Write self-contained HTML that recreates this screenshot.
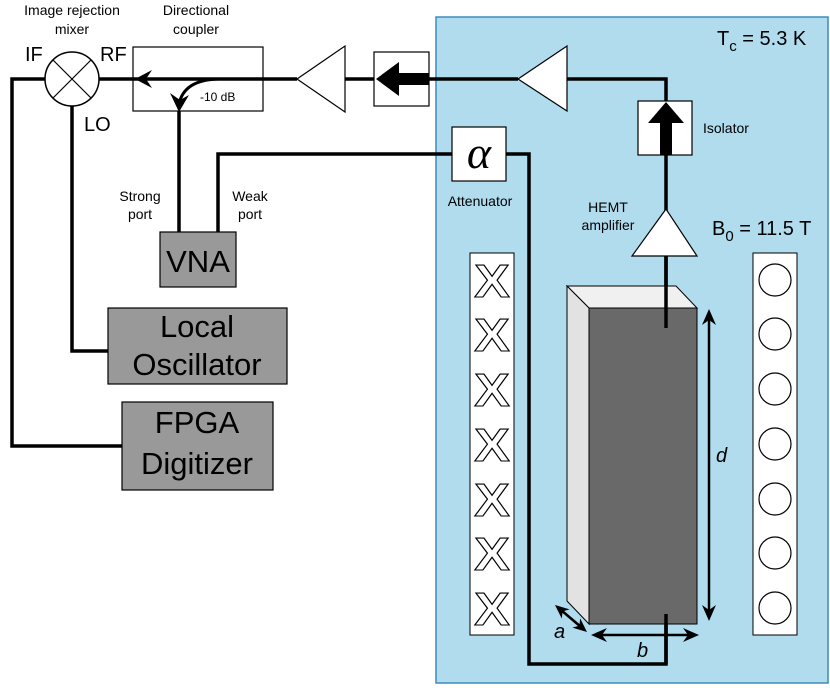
<!DOCTYPE html>
<html><head><meta charset="utf-8"><style>html,body{margin:0;padding:0;background:#fff}svg{display:block}</style></head>
<body>
<svg width="830" height="688" viewBox="0 0 830 688" xmlns="http://www.w3.org/2000/svg" font-family="Liberation Sans, sans-serif">
<rect x="436" y="17" width="392" height="666" fill="#b0dcee" stroke="#3a8dbd" stroke-width="1.5"/>
<g fill="none" stroke="#000" stroke-width="3.5">
<path d="M45,79 H12 V446 H123"/>
<path d="M72,106 V351 H108"/>
<path d="M99,79 H297"/>
<path d="M345,79 H518"/>
<path d="M567,79 H666 V328"/>
<path d="M179,232 V111"/>
<path d="M218,232 V154 H452"/>
<path d="M506,154 H529 V664 H666 V614"/>
</g>
<!-- mixer -->
<circle cx="72" cy="79" r="27" fill="#fff" stroke="#000" stroke-width="1.5"/>
<path d="M53,60 L91,98 M91,60 L53,98" stroke="#000" stroke-width="1.2"/>
<!-- coupler -->
<rect x="133" y="47" width="130" height="64" fill="none" stroke="#000" stroke-width="1.2"/>
<path d="M135,79 L152,70 L146,79 L152,88Z" fill="#000"/>
<path d="M218,79 Q184,80 179,104" fill="none" stroke="#000" stroke-width="3"/>
<path d="M170,93 L179,112 L189,95 L180,100Z" fill="#000"/>
<text x="200" y="101" font-size="12">-10 dB</text>
<!-- amp1 -->
<polygon points="297,79 345,46 345,112" fill="#fff" stroke="#000" stroke-width="1.2"/>
<!-- isolator left -->
<rect x="374" y="52" width="55" height="54" fill="#fff" stroke="#000" stroke-width="1.2"/>
<path d="M429,73 H399 V62 L376,79 L399,96 V85 H429Z" fill="#000"/>
<!-- amp2 -->
<polygon points="518,79 567,46 567,111" fill="#fff" stroke="#000" stroke-width="1.2"/>
<!-- isolator vertical -->
<rect x="638" y="101" width="54" height="54" fill="#fff" stroke="#000" stroke-width="1.2"/>
<path d="M660,155 V123 H648 L666,102 L684,123 H672 V155Z" fill="#000"/>
<!-- HEMT -->
<polygon points="666,209 632,256 697,256" fill="#fff" stroke="#000" stroke-width="1.2"/>
<!-- attenuator -->
<rect x="452" y="127" width="54" height="54" fill="#fff" stroke="#000" stroke-width="1.2"/>
<text x="479" y="168" font-size="46" font-family="Liberation Serif, serif" font-style="italic" text-anchor="middle">α</text>
<!-- columns -->
<rect x="470" y="253" width="44" height="382" fill="#fff" stroke="#000" stroke-width="1"/>
<rect x="753" y="253" width="44" height="382" fill="#fff" stroke="#000" stroke-width="1"/>
<g font-size="46" font-weight="bold" fill="#fff" stroke="#000" stroke-width="1.1" text-anchor="middle" transform="translate(492 0) scale(1.15 1) translate(-492 0)">
<text x="492" y="297">X</text><text x="492" y="351">X</text><text x="492" y="406">X</text><text x="492" y="461">X</text><text x="492" y="516">X</text><text x="492" y="570">X</text><text x="492" y="625">X</text>
</g>
<g fill="#fff" stroke="#000" stroke-width="1.2">
<circle cx="775" cy="280" r="16"/><circle cx="775" cy="334" r="16"/><circle cx="775" cy="389" r="16"/><circle cx="775" cy="444" r="16"/><circle cx="775" cy="499" r="16"/><circle cx="775" cy="553" r="16"/><circle cx="775" cy="608" r="16"/>
</g>
<!-- bar -->
<polygon points="567,286 676,286 697,308 589,308" fill="#f0f0f0" stroke="#000" stroke-width="1"/>
<polygon points="567,286 589,308 589,624 567,601" fill="#e2e2e2" stroke="#000" stroke-width="1"/>
<rect x="589" y="308" width="108" height="316" fill="#696969" stroke="#000" stroke-width="1"/>
<path d="M666,256 V328 M666,614 V664" stroke="#000" stroke-width="3.5"/>
<!-- dims -->
<g stroke="#000" stroke-width="2.5" fill="none">
<path d="M709,318 V612"/>
<path d="M600,635 H690"/>
<path d="M561,610 L581,627"/>
</g>
<g fill="#000">
<path d="M709,309 L716,325 L709,320 L702,325Z"/>
<path d="M709,621 L716,605 L709,610 L702,605Z"/>
<path d="M591,635 L607,628 L602,635 L607,642Z"/>
<path d="M699,635 L683,628 L688,635 L683,642Z"/>
<path d="M555,605 L569.6,609.4 L562.6,611.4 L561.8,618.6Z"/>
<path d="M587,632 L572.4,627.6 L579.4,625.6 L580.2,618.4Z"/>
</g>
<g font-size="20" font-style="italic">
<text x="716" y="462">d</text><text x="637" y="657">b</text><text x="554" y="638">a</text>
</g>
<!-- grey boxes -->
<g fill="#999" stroke="#000" stroke-width="1.2">
<rect x="160" y="232" width="76" height="55"/>
<rect x="108" y="308" width="179" height="76"/>
<rect x="122" y="402" width="151" height="88"/>
</g>
<g font-size="31" text-anchor="middle">
<text x="198" y="272">VNA</text>
<text x="197" y="337">Local</text><text x="197" y="375">Oscillator</text>
<text x="197" y="433">FPGA</text><text x="197" y="474">Digitizer</text>
</g>
<!-- labels -->
<g font-size="14" text-anchor="middle">
<text x="72" y="15">Image rejection</text><text x="72" y="34">mixer</text>
<text x="196" y="15">Directional</text><text x="196" y="34">coupler</text>
<text x="140" y="201">Strong</text><text x="140" y="219">port</text>
<text x="250" y="201">Weak</text><text x="250" y="219">port</text>
<text x="480" y="206">Attenuator</text>
<text x="608" y="212">HEMT</text><text x="608" y="230">amplifier</text>
</g>
<text x="703" y="133" font-size="14">Isolator</text>
<g font-size="20">
<text x="25" y="61">IF</text><text x="100" y="61">RF</text><text x="84" y="131">LO</text>
<text x="717" y="45">T<tspan font-size="15" dy="6">c</tspan><tspan dy="-6"> = 5.3 K</tspan></text>
<text x="712" y="235">B<tspan font-size="15" dy="6">0</tspan><tspan dy="-6"> = 11.5 T</tspan></text>
</g>
</svg>
</body></html>
